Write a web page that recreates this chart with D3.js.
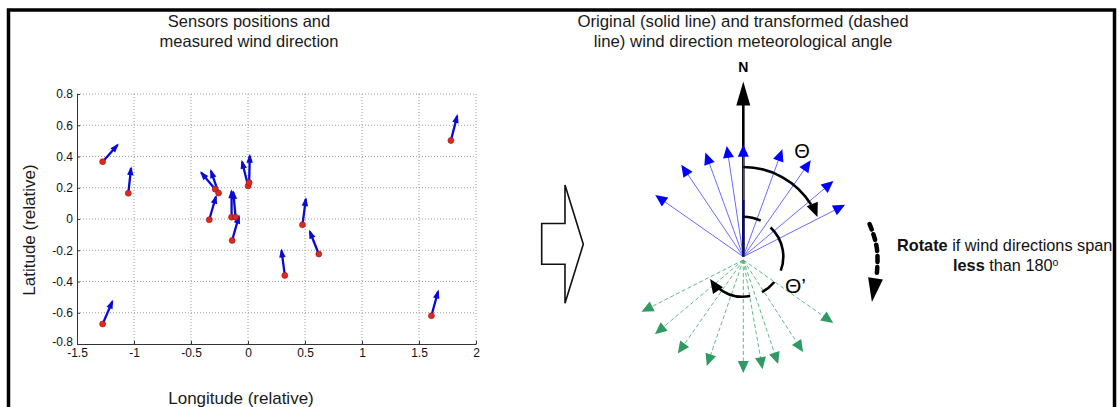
<!DOCTYPE html>
<html>
<head>
<meta charset="utf-8">
<script src="https://cdn.jsdelivr.net/npm/d3@7"></script>
<style>
body { margin: 0; background: #fff; }
svg { display: block; font-family: "Liberation Sans", Arial, sans-serif; }
</style>
</head>
<body>
<svg id="fig" width="1119" height="407"></svg>
<script>
// sensors: relative position and measured wind vector (u east, v north)
const sensorX = [-1.275, -1.05, -1.275, -0.340, -0.288, -0.258, -0.144, -0.109, -0.139, 0.001, 0.010, 0.323, 0.478, 0.621, 1.609, 1.780];
const sensorY = [0.367, 0.165, -0.672, -0.005, 0.191, 0.166, 0.012, 0.012, -0.137, 0.212, 0.233, -0.361, -0.037, -0.224, -0.619, 0.502];
const windU = [0.131, 0.024, 0.085, 0.059, -0.123, -0.067, 0.000, -0.020, 0.059, -0.053, 0.006, -0.029, 0.029, -0.079, 0.058, 0.055];
const windV = [0.107, 0.160, 0.144, 0.149, 0.106, 0.142, 0.165, 0.160, 0.153, 0.155, 0.171, 0.160, 0.164, 0.144, 0.155, 0.158];
const xTicks = [-1.5, -1, -0.5, 0, 0.5, 1, 1.5, 2];
const yTicks = [-0.8, -0.6, -0.4, -0.2, 0, 0.2, 0.4, 0.6, 0.8];

// meteorological angle (deg clockwise from N) and relative length of each arrow
const origAngle = [-55, -34, -20, -8.5, 0, 20, 35, 50, 63];
const origLen = [0.96, 0.99, 0.99, 1.0, 1.0, 1.02, 1.05, 1.05, 1.02];
const transAngle = [243, 230, 215, 199, 180, 170, 161.5, 147, 125];
const transLen = [1.02, 1.03, 1.02, 1.0, 1.01, 0.99, 0.98, 0.98, 0.98];

const svg = d3.select("#fig");
const rad = Math.PI / 180;

// triangle head: tip at (x,y), pointing along (dx,dy)
function headPoints(x, y, dx, dy, len, wid) {
	const n = Math.hypot(dx, dy), ux = dx / n, uy = dy / n;
	const bx = x - ux * len, by = y - uy * len;
	return [[x, y], [bx - uy * wid / 2, by + ux * wid / 2], [bx + uy * wid / 2, by - ux * wid / 2]];
}

const txt = (g, t, px, py, size, anchor) => g.append("text").text(t)
	.attr("x", px).attr("y", py).attr("text-anchor", anchor || "middle")
	.style("font-size", size + "px").style("fill", "#1a1a1a");

// ---------- left: sensor map ----------
const x = d3.scaleLinear().domain([-1.5, 2]).range([77, 476]);
const y = d3.scaleLinear().domain([-0.8, 0.8]).range([344, 94]);
const left = svg.append("g");

// dotted grid
left.selectAll(".gx").data(xTicks.slice(1)).enter().append("line")
	.attr("x1", d => x(d)).attr("x2", d => x(d))
	.attr("y1", y(-0.8)).attr("y2", y(0.8))
	.style("stroke", "#9a9a9a").style("stroke-width", 1).style("stroke-dasharray", "1,2");
left.selectAll(".gy").data(yTicks.slice(1)).enter().append("line")
	.attr("x1", x(-1.5)).attr("x2", x(2))
	.attr("y1", d => y(d)).attr("y2", d => y(d))
	.style("stroke", "#9a9a9a").style("stroke-width", 1).style("stroke-dasharray", "1,2");

const xAxis = left.append("g").attr("transform", "translate(0," + y(-0.8) + ")")
	.call(d3.axisBottom(x).tickValues(xTicks).tickSizeInner(-3).tickSizeOuter(0).tickPadding(6).tickFormat(d => String(d)));
const yAxis = left.append("g").attr("transform", "translate(" + x(-1.5) + ",0)")
	.call(d3.axisLeft(y).tickValues(yTicks).tickSizeInner(-3).tickSizeOuter(0).tickPadding(4).tickFormat(d => String(d)));
[xAxis, yAxis].forEach(a => {
	a.select(".domain").style("stroke", "#333");
	a.selectAll(".tick line").style("stroke", "#333");
	a.selectAll("text").style("font-family", "Liberation Sans, Arial, sans-serif")
		.style("font-size", "12px").style("fill", "#111");
});
xAxis.selectAll("text").attr("dy", "0.62em");
// lowest y label sits just above the -1.5 label, as in the original
yAxis.selectAll(".tick").filter(d => d === -0.8).select("text").attr("dy", "0.1em");

// wind arrows
const idx = d3.range(sensorX.length);
left.selectAll(".qv").data(idx).enter().append("line")
	.attr("x1", i => x(sensorX[i])).attr("y1", i => y(sensorY[i]))
	.attr("x2", i => x(sensorX[i] + windU[i])).attr("y2", i => y(sensorY[i] + windV[i]))
	.style("stroke", "#0a0ad8").style("stroke-width", 2.3);
left.selectAll(".qh").data(idx).enter().append("polygon")
	.attr("points", i => {
		const tx = x(sensorX[i] + windU[i]), ty = y(sensorY[i] + windV[i]);
		return headPoints(tx + (tx - x(sensorX[i])) * 0.08, ty + (ty - y(sensorY[i])) * 0.08,
			tx - x(sensorX[i]), ty - y(sensorY[i]), 9, 6.5).join(" ");
	})
	.style("fill", "#0a0ad8");
left.selectAll(".dot").data(idx).enter().append("circle")
	.attr("cx", i => x(sensorX[i])).attr("cy", i => y(sensorY[i])).attr("r", 3)
	.style("fill", "#dd2a1e").style("stroke", "#9a1a12").style("stroke-width", 0.6);

// titles and axis labels
txt(left, "Sensors positions and", 249, 27, 16.5);
txt(left, "measured wind direction", 249, 46.5, 16.5);
txt(left, "Longitude (relative)", 241, 404, 17);
txt(left, "Latitude (relative)", 0, 0, 17).attr("transform", "translate(34.5,230) rotate(-90)");

// ---------- middle: hollow arrow ----------
const ax = d3.scaleLinear().domain([0, 1]).range([541.7, 583.3]);
const ay = d3.scaleLinear().domain([0, 1]).range([185, 303.3]);
const hollow = [[0, 0.325], [0.56, 0.325], [0.56, 0], [1, 0.5], [0.56, 1], [0.56, 0.67], [0, 0.67]];
svg.append("path")
	.attr("d", d3.line().x(d => ax(d[0])).y(d => ay(d[1]))(hollow) + "Z")
	.style("fill", "#fff").style("stroke", "#111").style("stroke-width", 1.6);

// ---------- right: wind direction fan ----------
const right = svg.append("g");
const cx = 743.3, cyO = 256.7, cyT = 260;
const r = d3.scaleLinear().domain([0, 1]).range([0, 112]);
const px = (a, l) => cx + r(l) * Math.sin(a * rad);
const py = (c, a, l) => c - r(l) * Math.cos(a * rad);

txt(right, "Original (solid line) and transformed (dashed", 743, 27, 16.8);
txt(right, "line) wind direction meteorological angle", 743, 46.5, 16.8);

// transformed (dashed green)
const ti = d3.range(transAngle.length);
right.selectAll(".tl").data(ti).enter().append("line")
	.attr("x1", cx).attr("y1", cyT)
	.attr("x2", i => px(transAngle[i], transLen[i] - 0.06)).attr("y2", i => py(cyT, transAngle[i], transLen[i] - 0.06))
	.style("stroke", "#4fae7c").style("stroke-width", 0.9).style("stroke-dasharray", "4,2.5");
right.selectAll(".th").data(ti).enter().append("polygon")
	.attr("points", i => headPoints(px(transAngle[i], transLen[i]), py(cyT, transAngle[i], transLen[i]),
		Math.sin(transAngle[i] * rad), -Math.cos(transAngle[i] * rad), 12, 11).join(" "))
	.style("fill", "#2f9a63");

// north arrow
right.append("line").attr("x1", cx).attr("y1", cyO).attr("x2", cx).attr("y2", 100)
	.style("stroke", "#000").style("stroke-width", 2.6);
right.append("polygon").attr("points", headPoints(cx, 81.5, 0, -1, 24, 14).join(" ")).style("fill", "#000");
txt(right, "N", cx, 71.5, 14).style("font-weight", "bold").style("fill", "#000");

// original (solid blue)
const oi = d3.range(origAngle.length);
right.selectAll(".ol").data(oi).enter().append("line")
	.attr("x1", cx).attr("y1", cyO)
	.attr("x2", i => px(origAngle[i], origLen[i] - 0.06)).attr("y2", i => py(cyO, origAngle[i], origLen[i] - 0.06))
	.style("stroke", "#5a5aff").style("stroke-width", 0.9);
right.append("line").attr("x1", cx).attr("y1", cyO).attr("x2", cx).attr("y2", 200)
	.style("stroke", "#0b0b70").style("stroke-width", 2.4);
right.selectAll(".oh").data(oi).enter().append("polygon")
	.attr("points", i => headPoints(px(origAngle[i], origLen[i]), py(cyO, origAngle[i], origLen[i]),
		Math.sin(origAngle[i] * rad), -Math.cos(origAngle[i] * rad), 12, 11).join(" "))
	.style("fill", "#0000ff");

// theta arc with arrow
function arcPath(c, cy0, rr, a0, a1) {
	const p = d3.path();
	p.arc(c, cy0, rr, (a0 - 90) * rad, (a1 - 90) * rad, a1 < a0);
	return p.toString();
}
function arcHead(c, cy0, rr, a, cw) {
	const tx = c + rr * Math.sin(a * rad), ty = cy0 - rr * Math.cos(a * rad);
	const s = cw ? 1 : -1;
	return headPoints(tx, ty, s * Math.cos(a * rad), s * Math.sin(a * rad), 14, 12).join(" ");
}
right.append("path").attr("d", arcPath(cx, 247, 80, 0, 58))
	.style("fill", "none").style("stroke", "#000").style("stroke-width", 2.6);
right.append("polygon").attr("points", arcHead(cx, 247, 80, 68, true)).style("fill", "#000");
txt(right, "\u0398", 802, 157.5, 20).style("fill", "#000");

// theta' arc, dashed then solid
right.append("path").attr("d", arcPath(cx, cyO, 40, 0, 160))
	.style("fill", "none").style("stroke", "#000").style("stroke-width", 2.6)
	.style("stroke-dasharray", "18,12,47,13,16,13");
right.append("path").attr("d", arcPath(cx, cyO, 40, 170, 222))
	.style("fill", "none").style("stroke", "#000").style("stroke-width", 2.6);
right.append("polygon").attr("points", arcHead(cx, cyO, 40, 236, true)).style("fill", "#000");
txt(right, "\u0398\u2019", 785, 293, 21, "start").style("fill", "#000");

// rotate note with dotted curved arrow
const rx = d3.scaleLinear().domain([0, 1]).range([866, 884]);
const ry = d3.scaleLinear().domain([0, 1]).range([224, 302]);
const bend = [[0.2, 0], [0.7, 0.3], [0.6, 0.65]];
right.append("path")
	.attr("d", d3.line().x(d => rx(d[0])).y(d => ry(d[1])).curve(d3.curveBasis)(bend))
	.style("fill", "none").style("stroke", "#000").style("stroke-width", 4.5)
	.style("stroke-dasharray", "6,5").style("stroke-linecap", "round");
right.append("polygon")
	.attr("points", headPoints(rx(0.33), ry(1), -0.15, 1, 24, 15).join(" "))
	.style("fill", "#000");

const note = right.append("text").attr("x", 897).attr("y", 251).style("font-size", "16.3px").style("fill", "#111");
note.append("tspan").text("Rotate").style("font-weight", "bold");
note.append("tspan").text(" if wind directions span");
const note2 = right.append("text").attr("x", 953).attr("y", 271).style("font-size", "16.3px").style("fill", "#111");
note2.append("tspan").text("less").style("font-weight", "bold");
note2.append("tspan").text(" than 180");
note2.append("tspan").text("o").attr("dy", "-0.45em").style("font-size", "10.5px");

// frame round the whole figure
svg.append("rect")
	.attr("x", 8.5).attr("y", 10)
	.attr("width", 1106).attr("height", 420)
	.style("fill", "none").style("stroke", "#000").style("stroke-width", 3.5);
</script>
</body>
</html>
